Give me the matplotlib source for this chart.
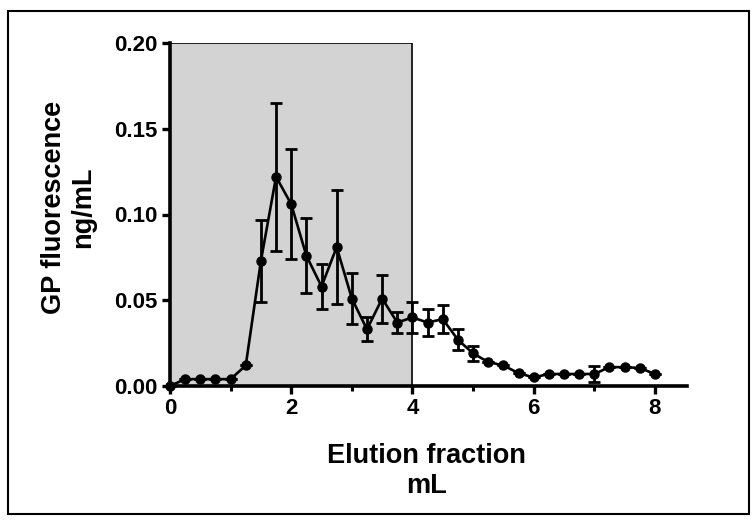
import matplotlib
matplotlib.use("Agg")
import matplotlib.pyplot as plt
from matplotlib.patches import Rectangle
from matplotlib.ticker import MultipleLocator

plt.rcParams['font.family'] = ['Liberation Sans', 'DejaVu Sans']
plt.rcParams['font.weight'] = 'bold'

volume = [0.0, 0.25, 0.5, 0.75, 1.0, 1.25, 1.5, 1.75, 2.0, 2.25, 2.5, 2.75, 3.0,
          3.25, 3.5, 3.75, 4.0, 4.25, 4.5, 4.75, 5.0, 5.25, 5.5, 5.75, 6.0,
          6.25, 6.5, 6.75, 7.0, 7.25, 7.5, 7.75, 8.0]
fluor = [0.000, 0.004, 0.004, 0.004, 0.004, 0.012, 0.073, 0.122, 0.106, 0.076,
         0.058, 0.081, 0.051, 0.033, 0.051, 0.037, 0.040, 0.037, 0.039, 0.027,
         0.019, 0.014, 0.012, 0.0075, 0.005, 0.007, 0.007, 0.007, 0.007, 0.011,
         0.011, 0.0105, 0.007]
err = [0.0, 0.0, 0.0, 0.0, 0.0, 0.0, 0.024, 0.043, 0.032, 0.022,
       0.013, 0.033, 0.015, 0.007, 0.014, 0.006, 0.009, 0.008, 0.008, 0.006,
       0.0045, 0.0, 0.0, 0.0, 0.0, 0.0, 0.0, 0.0, 0.0045, 0.0,
       0.0, 0.0, 0.0]
shade_start, shade_end = 0.0, 4.0
x_ticks = [0, 2, 4, 6, 8]
y_ticks = [0.00, 0.05, 0.10, 0.15, 0.20]

fig = plt.figure(figsize=(7.56, 5.21), dpi=100)
# outer frame
fig.patches.append(Rectangle((8/756, 7/521), 741/756, 503/521, transform=fig.transFigure,
                             fill=False, edgecolor='black', linewidth=1.5))

ax = fig.add_axes([170/756, 1-386/521, 517/756, 343/521])
ax.set_xlim(0, 8.53)
ax.set_ylim(0, 0.2)

ax.add_patch(Rectangle((shade_start, 0), shade_end - shade_start, 0.2,
                       facecolor='#d3d3d3', edgecolor='black', linewidth=1.2, zorder=0))

ax.errorbar(volume, fluor, yerr=err, color='black', marker='o', markersize=6.5,
            linewidth=1.9, elinewidth=2.0, capsize=4, capthick=2.0, clip_on=False, zorder=3)

for s in ['top', 'right']:
    ax.spines[s].set_visible(False)
for s in ['left', 'bottom']:
    ax.spines[s].set_linewidth(2.6)
    ax.spines[s].set_zorder(4)

ax.set_xticks(x_ticks)
ax.xaxis.set_minor_locator(MultipleLocator(1))
ax.set_yticks(y_ticks)
ax.set_yticklabels([f"{v:.2f}" for v in y_ticks])
ax.tick_params(axis='both', which='major', direction='out', length=6, width=2.4, labelsize=16, pad=3)
ax.tick_params(axis='x', which='minor', direction='out', length=3.5, width=2.2)
for lab in ax.get_xticklabels() + ax.get_yticklabels():
    lab.set_fontweight('bold')

ax.set_xlabel("Elution fraction\nmL", fontsize=19.5, fontweight='bold', linespacing=1.2)
ax.xaxis.set_label_coords(0.496, -0.165)
ax.set_ylabel("GP fluorescence\nng/mL", fontsize=19.5, fontweight='bold', linespacing=1.2)
ax.yaxis.set_label_coords(-0.142, 0.52)

fig.savefig("out.png", dpi=100)
